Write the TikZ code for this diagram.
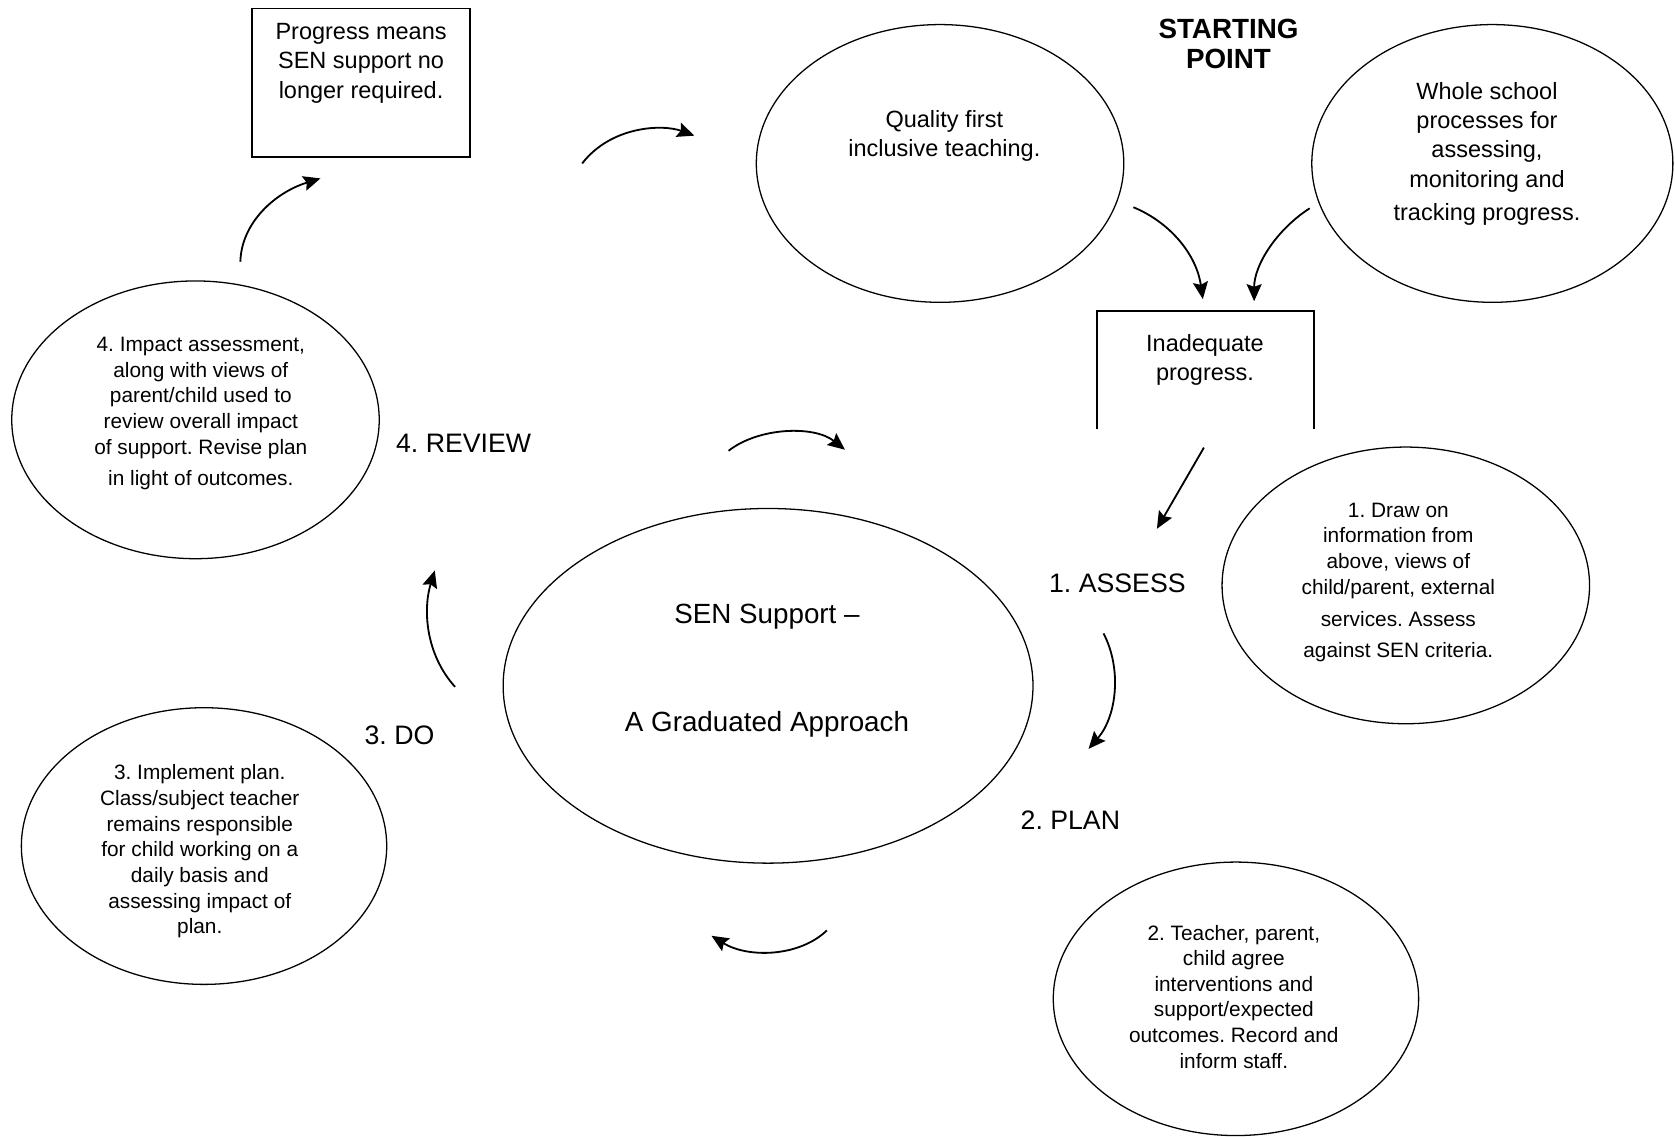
\documentclass[tikz,border=0pt]{standalone}
\usepackage{fontspec}
\setmainfont{Liberation Sans}
\frenchspacing
\usepackage{tikz}
\usetikzlibrary{shapes.geometric, arrows, arrows.meta}
\tikzstyle{arrow} = [line width=1.7pt,->,>={Stealth[length=16pt,width=14pt,inset=2.5pt]}]
\tikzstyle{oval} = [ellipse, draw=black, line width=1.2pt, inner sep=0pt, minimum width=344pt, minimum height=260pt]
\tikzstyle{box} = [rectangle, draw=black, line width=1.2pt, inner sep=0pt]
\tikzstyle{txt} = [align=center, font=\fontsize{22}{27.5}\selectfont]
\tikzstyle{smalltxt} = [align=center, font=\fontsize{19.5}{24}\selectfont]
\tikzstyle{steplabel} = [font=\fontsize{25}{30}\selectfont]

\begin{document}
\begin{tikzpicture}[x=1pt, y=-1pt]
		\useasboundingbox (0,0) rectangle (1568,1065);
		\node (prog) [box, minimum width=204pt, minimum height=139pt] at (338,77.5) {};
		\node (progtxt) [txt] at (338,59) {Progress means\\SEN support no\\longer required.};
		\node (start) [txt, font=\fontsize{26}{28}\selectfont\bfseries] at (1150,41) {STARTING\\POINT};
		\node (qft) [oval] at (880,153) {};
		\node (qfttxt) [txt] at (884,127) {Quality first\\inclusive teaching.};
		\node (whole) [oval, minimum width=338pt] at (1397,153) {};
		\node (wholetxt) [txt] at (1392,144) {Whole school\\processes for\\assessing,\\monitoring and\\[4pt]tracking progress.};
		\node (inadtxt) [txt] at (1128,337) {Inadequate\\progress.};
		\draw [line width=1.2pt] (1027,402) -- (1027,291) -- (1230,291) -- (1230,402);
		\node (impact) [oval] at (183,393) {};
		\node (impacttxt) [smalltxt] at (188,387) {4. Impact assessment,\\along with views of\\parent/child used to\\review overall impact\\of support. Revise plan\\[5pt]in light of outcomes.};
		\node (review) [steplabel] at (434,415) {4. REVIEW};
		\node (draw) [oval, minimum height=259pt] at (1316,548) {};
		\node (drawtxt) [smalltxt] at (1309,545) {1. Draw on\\information from\\above, views of\\child/parent, external\\[6pt]services. Assess\\[5pt]against SEN criteria.};
		\node (assess) [steplabel] at (1046,546) {1. ASSESS};
		\node (sen) [oval, minimum width=496pt, minimum height=332pt] at (719,642) {};
		\node (sentxt) [steplabel, align=center, font=\fontsize{26}{30}\selectfont] at (718,628) {SEN Support --\\[71pt]A Graduated Approach};
		\node (do) [steplabel] at (374,688) {3. DO};
		\node (impl) [oval, minimum width=342pt, minimum height=259pt] at (191,792) {};
		\node (impltxt) [smalltxt] at (187,797) {3. Implement plan.\\Class/subject teacher\\remains responsible\\for child working on a\\daily basis and\\assessing impact of\\plan.};
		\node (plan) [steplabel] at (1002,768) {2. PLAN};
		\node (agree) [oval, minimum width=342pt, minimum height=256pt] at (1157,935) {};
		\node (agreetxt) [smalltxt] at (1155,933) {2. Teacher, parent,\\child agree\\interventions and\\support/expected\\outcomes. Record and\\inform staff.};
		\coordinate (c1s) at (225,245);
		\coordinate (c1e) at (300,167);
		\coordinate (c2s) at (545,153);
		\coordinate (c2e) at (650,127);
		\coordinate (c3s) at (1061,194);
		\coordinate (c3e) at (1126,280);
		\coordinate (c4s) at (1226,195);
		\coordinate (c4e) at (1174,282);
		\coordinate (c5s) at (1127,419);
		\coordinate (c5e) at (1083,495);
		\coordinate (c6s) at (1033,593);
		\coordinate (c6e) at (1019,701);
		\coordinate (c7s) at (774,871);
		\coordinate (c7e) at (666,876);
		\coordinate (c8s) at (426,643);
		\coordinate (c8e) at (407,534);
		\coordinate (c9s) at (682,422);
		\coordinate (c9e) at (791,421);
		\draw [arrow] (c1s) .. controls (226,208) and (258,180) .. (c1e);
		\draw [arrow] (c2s) .. controls (572,118) and (620,116) .. (c2e);
		\draw [arrow] (c3s) .. controls (1095,208) and (1120,238) .. (c3e);
		\draw [arrow] (c4s) .. controls (1195,215) and (1174,248) .. (c4e);
		\draw [arrow] (c5s) -- (c5e);
		\draw [arrow] (c6s) .. controls (1050,625) and (1046,670) .. (c6e);
		\draw [arrow] (c7s) .. controls (748,896) and (700,897) .. (c7e);
		\draw [arrow] (c8s) .. controls (398,612) and (396,570) .. (c8e);
		\draw [arrow] (c9s) .. controls (710,400) and (762,398) .. (c9e);
\end{tikzpicture}
\end{document}
